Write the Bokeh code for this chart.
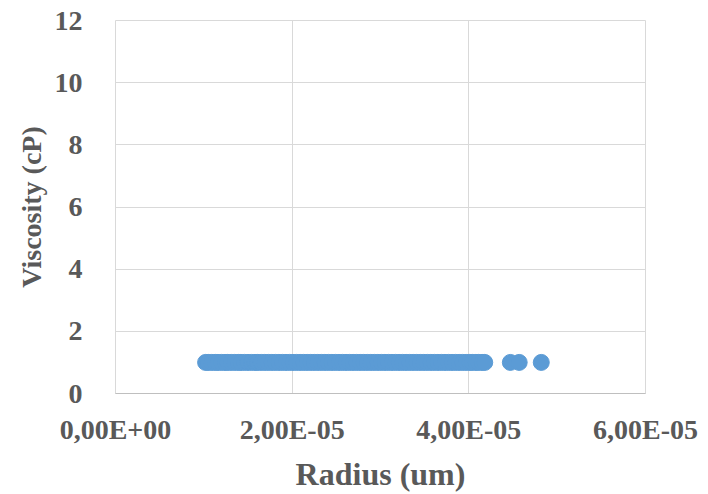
from bokeh.plotting import figure
from bokeh.models import FixedTicker, CustomJSTickFormatter, Range1d
from bokeh.embed import file_html
from bokeh.resources import INLINE

# Measured radii (um) and viscosities (cP)
radius = [
    1.02e-05, 1.05e-05, 1.09e-05, 1.13e-05, 1.16e-05, 1.20e-05, 1.24e-05, 1.27e-05,
    1.31e-05, 1.35e-05, 1.39e-05, 1.42e-05, 1.46e-05, 1.50e-05, 1.54e-05, 1.58e-05,
    1.61e-05, 1.65e-05, 1.69e-05, 1.73e-05, 1.77e-05, 1.81e-05, 1.85e-05, 1.89e-05,
    1.93e-05, 1.97e-05, 2.01e-05, 2.05e-05, 2.09e-05, 2.13e-05, 2.17e-05, 2.21e-05,
    2.25e-05, 2.29e-05, 2.33e-05, 2.37e-05, 2.41e-05, 2.45e-05, 2.49e-05, 2.53e-05,
    2.57e-05, 2.61e-05, 2.65e-05, 2.69e-05, 2.73e-05, 2.77e-05, 2.81e-05, 2.85e-05,
    2.89e-05, 2.93e-05, 2.97e-05, 3.01e-05, 3.05e-05, 3.09e-05, 3.13e-05, 3.17e-05,
    3.21e-05, 3.25e-05, 3.29e-05, 3.33e-05, 3.37e-05, 3.41e-05, 3.45e-05, 3.49e-05,
    3.53e-05, 3.57e-05, 3.61e-05, 3.65e-05, 3.69e-05, 3.73e-05, 3.77e-05, 3.81e-05,
    3.85e-05, 3.89e-05, 3.93e-05, 3.97e-05, 4.01e-05, 4.04e-05, 4.08e-05, 4.11e-05,
    4.15e-05, 4.18e-05, 4.47e-05, 4.57e-05, 4.82e-05,
]
viscosity = [1.0] * len(radius)

x_ticks = [0, 2e-05, 4e-05, 6e-05]
y_ticks = [0, 2, 4, 6, 8, 10, 12]

FONT = "Liberation Serif"
TEXT = "#595959"

p = figure(
    width=708, height=494, output_backend="svg", toolbar_location=None,
    x_range=Range1d(0, 6e-05), y_range=Range1d(0, 12),
    min_border_left=115, min_border_right=63, min_border_top=20, min_border_bottom=101,
)

p.scatter(radius, viscosity, size=16, color="#5B9BD5", line_color="#5B9BD5")

p.xaxis.ticker = FixedTicker(ticks=x_ticks)
p.yaxis.ticker = FixedTicker(ticks=y_ticks)
p.xaxis.formatter = CustomJSTickFormatter(code="""
    const s = tick.toExponential(2);
    const parts = s.split('e');
    const sign = parts[1][0];
    const d = parts[1].slice(1).padStart(2, '0');
    return parts[0].replace('.', ',') + 'E' + sign + d;
""")

p.xaxis.axis_label = "Radius (um)"
p.yaxis.axis_label = "Viscosity (cP)"

for ax in (p.xaxis[0], p.yaxis[0]):
    ax.major_label_text_font = FONT
    ax.major_label_text_font_style = "bold"
    ax.major_label_text_font_size = "28px"
    ax.major_label_text_color = TEXT
    ax.axis_label_text_font = FONT
    ax.axis_label_text_font_style = "bold"
    ax.axis_label_text_color = TEXT
    ax.major_tick_line_color = None
    ax.minor_tick_line_color = None

p.xaxis.axis_label_text_font_size = "32px"
p.yaxis.axis_label_text_font_size = "28px"

p.xaxis.axis_line_color = "#BFBFBF"
p.yaxis.axis_line_color = None
p.xaxis.major_label_standoff = 14
p.xaxis.axis_label_standoff = 8
p.yaxis.major_label_standoff = 27
p.yaxis.axis_label_standoff = 5

p.xgrid.grid_line_color = "#D9D9D9"
p.ygrid.grid_line_color = "#D9D9D9"
p.outline_line_color = "#D9D9D9"
p.background_fill_color = "white"
p.border_fill_color = "white"

open("out.html", "w").write(file_html(p, INLINE))
